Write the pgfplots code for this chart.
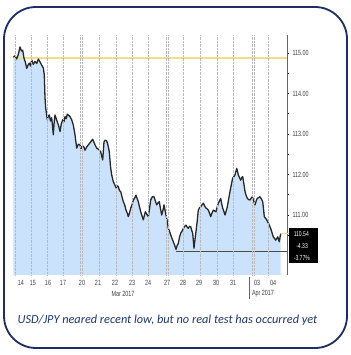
\documentclass[border=0pt]{standalone}
\usepackage{pgfplots}
\pgfplotsset{compat=1.18}
\usepackage{pgfplotstable}
\usepackage{fontspec}
\setmainfont{Carlito}
\newfontfamily\narrow[FakeStretch=0.72]{Liberation Sans}
\definecolor{frame}{RGB}{31,45,100}
\definecolor{capcol}{RGB}{31,56,110}
\definecolor{areacol}{RGB}{202,226,251}
\definecolor{linecol}{RGB}{40,40,40}
\definecolor{yel}{RGB}{242,222,135}
\pgfplotstableread{
x y
13.3 114.90
15 114.93
16.7 114.85
18.5 114.98
20 115.15
21.5 115.05
22.7 115.07
24 114.87
25.3 114.78
26.7 114.62
28 114.70
29.3 114.75
30.5 114.68
31.7 114.83
33.3 114.72
35 114.79
36.7 114.74
38.3 114.85
40 114.78
41.7 114.70
43.3 114.63
44.3 114.46
45 113.90
45.7 113.64
47.3 113.35
48.3 113.45
49.3 113.47
50.5 113.32
51.7 113.40
52.5 113.20
53.3 112.98
54.2 113.30
55 113.47
56.2 113.38
57.3 113.30
58.7 113.20
60 113.06
61.3 113.25
62.7 113.35
64 113.30
65 113.43
66.2 113.38
67.3 113.49
68.7 113.46
70 113.43
71.7 113.35
73.3 113.22
75 112.98
76.7 112.65
78.3 112.75
80 112.73
81 112.64
82 112.69
83.5 112.70
85 112.60
86.7 112.68
88.3 112.73
90.5 112.80
92.7 112.87
94.7 112.75
96.7 112.65
98.7 112.62
100.7 112.56
101.7 112.45
102.7 112.36
104 112.81
105.3 112.85
106.7 112.83
108 112.72
109.3 112.56
110.5 112.20
111.7 111.99
113.3 111.82
114.7 111.75
116 111.67
117.2 111.72
118.3 111.70
119.5 111.60
120.7 111.58
122 111.45
123.3 111.33
124.7 111.25
126 111.12
127.2 111.05
128.3 110.96
129.5 111.05
130.7 111.17
132 111.25
133.3 111.37
134.7 111.42
136 111.49
137.2 111.40
138.3 111.33
139.5 111.20
140.7 111.08
142 110.98
143.3 110.88
144.3 110.98
145.3 111.08
146.8 111.02
148.3 110.96
149.5 111.15
150.7 111.37
152.3 111.45
154 111.45
155.3 111.35
156.7 111.25
158 111.30
159.3 111.33
160.5 111.15
161.7 111.00
163 111.12
164 111.25
165 111.12
166 111.00
167.2 110.85
168.3 110.67
169.5 110.60
170.7 110.51
172 110.42
173.3 110.34
174.7 110.25
176 110.15
177.2 110.25
178.3 110.30
179.5 110.45
180.7 110.55
182 110.60
183.3 110.67
184.7 110.72
186 110.75
187.2 110.70
188.3 110.67
189.5 110.72
190.7 110.71
191.7 110.62
192.7 110.55
193.4 110.35
194 110.18
195 110.40
196 110.59
197.2 110.85
198.3 111.12
199.5 111.18
200.7 111.20
202 111.25
203.3 111.29
204.7 111.22
206 111.17
207.2 111.15
208.3 111.12
209.5 111.05
210.7 110.96
212 111.05
213.3 111.12
214.7 111.10
216 111.08
217.2 111.20
218.3 111.29
219.5 111.35
220.7 111.41
221.5 111.30
222.7 111.17
224 111.08
225 111.00
226.2 111.10
227.3 111.20
228.7 111.40
230 111.58
231.3 111.75
232.7 111.91
234 111.95
235 111.99
236.7 112.15
237.5 112.08
238.3 111.99
239.5 111.92
240.7 111.86
241.7 111.92
242.7 111.95
243.8 111.78
245 111.58
246.2 111.48
247.3 111.41
248.7 111.38
250 111.37
251.2 111.42
252.3 111.45
253.7 111.35
255 111.25
256.2 111.35
257.3 111.41
258.7 111.43
260 111.45
261.3 111.40
262.7 111.33
263.5 111.15
264.3 110.96
265.5 110.92
266.7 110.88
268 110.82
269.3 110.75
270.5 110.68
271.7 110.59
272.5 110.52
273.3 110.46
274.5 110.42
275.7 110.38
276.7 110.42
277.7 110.46
278.5 110.40
279.3 110.34
280 110.45
280.7 110.54
}\usdjpy
\begin{document}
\begin{tikzpicture}[x=1pt,y=1pt]
\useasboundingbox (0,0) rectangle (350,355);
\fill[white] (0,0) rectangle (350,355);
\draw[frame, line width=1.8pt, rounded corners=32pt] (4,348) rectangle (347,7);
\begin{axis}[
  at={(13pt,80pt)}, anchor=south west,
  width=274pt, height=240pt, scale only axis,
  xmin=13, xmax=287, ymin=109.519, ymax=115.444,
  axis y line*=right, axis x line*=bottom,
  x axis line style={draw=none},
  y axis line style={draw=gray!80!black, line width=0.6pt},
  axis on top,
  ytick={111,112,113,114,115},
  minor ytick={110.5,111.5,112.5,113.5,114.5},
  yticklabel style={/pgf/number format/.cd, fixed, fixed zerofill, precision=2, assume math mode=true},
  ticklabel style={font=\narrow\fontsize{7.5}{8}\selectfont, text=black!75},
  y tick style={black, line width=0.8pt},
  tick align=outside,
  major tick length=2pt, minor tick length=1.5pt,
  xtick={21,33,48,63,82,98,115,132,148,167,183,199,216,233,257,273},
  xticklabels={14,15,16,17,20,21,22,23,24,27,28,29,30,31,03,04},
  x tick style={draw=none},
  extra x ticks={15,31,47,63,80,82,99,116,132,148,166,168,183,200,217,233,252,254,268},
  extra x tick labels={},
  extra x tick style={grid=major, major grid style={gray!55, densely dotted, line width=0.5pt}, major tick length=0pt},
  clip=false,
]
\addplot[fill=areacol, draw=none] table[x=x,y=y] {\usdjpy} \closedcycle;
\addplot[yel, line width=2.2pt] coordinates {(13,114.87) (287,114.87)};
\addplot[linecol, line width=1.3pt, line join=round] table[x=x,y=y] {\usdjpy};
\addplot[gray!60!black, line width=0.9pt] coordinates {(176,110.10) (287,110.10)};
\end{axis}
\draw[yel, line width=1pt] (281,121.4) -- (289,121.4);
\fill[black] (289,127) rectangle (318,92);
\node[anchor=east, text=white, font=\narrow\fontsize{7}{8}\selectfont, inner sep=0pt] at (309,121) {110.54};
\node[anchor=east, text=white, font=\narrow\fontsize{7}{8}\selectfont, inner sep=0pt] at (308,109) {-4.33};
\node[anchor=east, text=white, font=\narrow\fontsize{7}{8}\selectfont, inner sep=0pt] at (310,97) {-3.77\%};
\node[font=\narrow\fontsize{7.5}{8}\selectfont, text=black!75] at (123,61) {Mar 2017};
\node[font=\narrow\fontsize{7.5}{8}\selectfont, text=black!75] at (263,61) {Apr 2017};
\draw[gray!80!black, line width=0.6pt] (249,78) -- (249,56);
\node[font=\itshape\fontsize{12.3}{14}\selectfont, text=capcol] at (167.5,35) {USD/JPY neared recent low, but no real test has occurred yet};
\end{tikzpicture}
\end{document}
